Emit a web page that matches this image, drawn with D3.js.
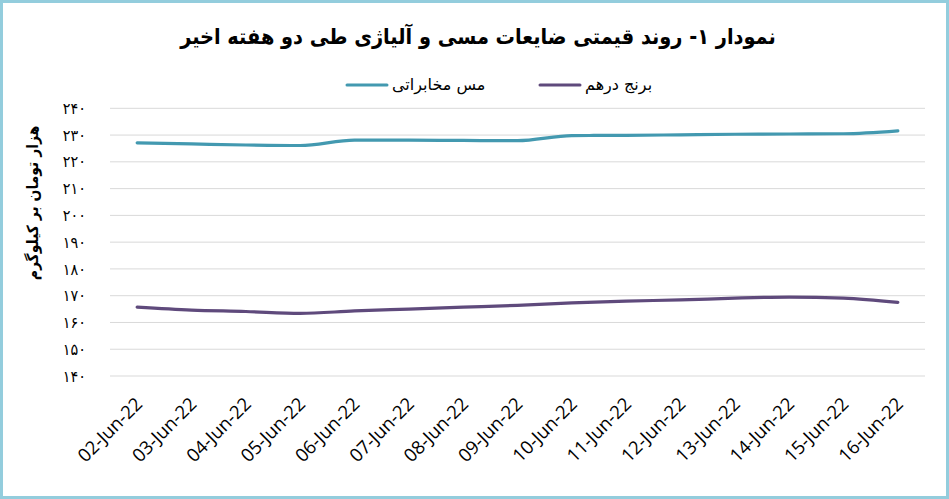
<!DOCTYPE html>
<html>
<head>
<meta charset="utf-8">
<script src="https://cdn.jsdelivr.net/npm/d3@7"></script>
<style>
  body { margin: 0; background: #fff; }
  svg { display: block; }
</style>
</head>
<body>
<div id="chart"></div>
<script>
const dates = ["02-Jun-22", "03-Jun-22", "04-Jun-22", "05-Jun-22", "06-Jun-22", "07-Jun-22", "08-Jun-22",
  "09-Jun-22", "10-Jun-22", "11-Jun-22", "12-Jun-22", "13-Jun-22", "14-Jun-22", "15-Jun-22", "16-Jun-22"];
const copper = [227.1, 226.7, 226.3, 226.1, 228.1, 228.1, 228.0, 227.9, 229.8, 229.9, 230.1, 230.3, 230.4, 230.5, 231.6];
const brass = [165.7, 164.6, 164.1, 163.4, 164.3, 165.0, 165.7, 166.4, 167.3, 168.0, 168.4, 169.1, 169.5, 169.1, 167.5];
const yTicks = [140, 150, 160, 170, 180, 190, 200, 210, 220, 230, 240];
const yTickLabels = ["۱۴۰", "۱۵۰", "۱۶۰", "۱۷۰", "۱۸۰", "۱۹۰", "۲۰۰", "۲۱۰", "۲۲۰", "۲۳۰", "۲۴۰"];
const seriesNames = ["مس مخابراتی", "برنج درهم"];
const titleText = "نمودار ۱- روند قیمتی ضایعات مسی و آلیاژی طی دو هفته اخیر";
const yTitle = "هزار تومان بر کیلوگرم";

const width = 949;
const height = 499;
const teal = "#4399b0";
const purple = "#5f4a7c";
const faFont = "'DejaVu Sans', sans-serif";
const faCond = "'DejaVu Sans Condensed', 'DejaVu Sans', sans-serif";

const svg = d3.select("#chart").append("svg").attr("width", width).attr("height", height);

// frame
svg.append("rect")
  .attr("x", 1.5).attr("y", 1.5)
  .attr("width", width - 3).attr("height", height - 3)
  .attr("fill", "#fff")
  .attr("stroke", "#93cddd")
  .attr("stroke-width", 3);

const x = d3.scaleBand().domain(dates).range([110, 925]);
const y = d3.scaleLinear().domain([140, 240]).range([376, 108.3]);

// gridlines
svg.append("g")
  .selectAll("line")
  .data(yTicks)
  .enter()
  .append("line")
  .attr("x1", 110).attr("x2", 925)
  .attr("y1", d => y(d)).attr("y2", d => y(d))
  .attr("stroke", "#d9d9d9")
  .attr("stroke-width", 1);

// y tick labels
const yAxis = d3.axisLeft(y).tickValues(yTicks).tickSize(0).tickPadding(0)
  .tickFormat((d, i) => yTickLabels[i]);
const yg = svg.append("g").attr("transform", "translate(86,0)").call(yAxis);
yg.select(".domain").remove();
yg.selectAll("text")
  .style("font-family", faCond)
  .style("font-size", "16px")
  .attr("fill", "#000");

// x tick labels
const xAxis = d3.axisBottom(x).tickSize(0).tickPadding(0);
const xg = svg.append("g").attr("transform", "translate(0,396)").call(xAxis);
xg.select(".domain").remove();
xg.selectAll("text")
  .style("font-family", "'Open Sans', sans-serif")
  .style("font-size", "18.5px")
  .attr("fill", "#000")
  .attr("dy", "0.71em")
  .attr("transform", "translate(-3,0) rotate(-45)")
  .style("text-anchor", "end");

// lines
const line = d3.line()
  .x((d, i) => x(dates[i]) + x.bandwidth() / 2)
  .y(d => y(d))
  .curve(d3.curveMonotoneX);

svg.append("path")
  .datum(copper)
  .attr("fill", "none")
  .attr("stroke", teal)
  .attr("stroke-width", 3.2)
  .attr("stroke-linecap", "round")
  .attr("d", line);

svg.append("path")
  .datum(brass)
  .attr("fill", "none")
  .attr("stroke", purple)
  .attr("stroke-width", 3.2)
  .attr("stroke-linecap", "round")
  .attr("d", line);

// title
svg.append("text")
  .attr("x", 478)
  .attr("y", 44)
  .attr("text-anchor", "middle")
  .attr("direction", "rtl")
  .style("font-family", faCond)
  .style("font-weight", "bold")
  .style("font-size", "21.5px")
  .text(titleText);

// y title
svg.append("text")
  .attr("transform", "translate(38,203) rotate(-90)")
  .attr("text-anchor", "middle")
  .attr("direction", "rtl")
  .style("font-family", faCond)
  .style("font-weight", "bold")
  .style("font-size", "15.5px")
  .text(yTitle);

// legend
const legendData = [
  { label: seriesNames[0], color: teal, x: 347 },
  { label: seriesNames[1], color: purple, x: 540 }
];
const legend = svg.append("g");
legend.selectAll("line")
  .data(legendData)
  .enter()
  .append("line")
  .attr("x1", d => d.x).attr("x2", d => d.x + 40)
  .attr("y1", 85).attr("y2", 85)
  .attr("stroke", d => d.color)
  .attr("stroke-width", 3)
  .attr("stroke-linecap", "round");
legend.selectAll("text")
  .data(legendData)
  .enter()
  .append("text")
  .attr("x", d => d.x + 45)
  .attr("y", 90)
  .attr("direction", "rtl")
  .attr("text-anchor", "end")
  .style("font-family", faFont)
  .style("font-size", "16px")
  .text(d => d.label);
</script>
</body>
</html>
